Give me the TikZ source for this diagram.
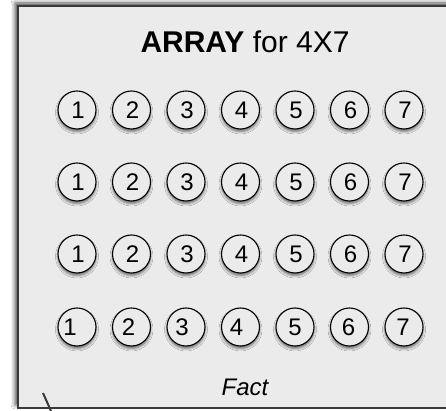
\documentclass[tikz,border=0pt]{standalone}
\usepackage{fontspec}
\setmainfont{Liberation Sans}
\usetikzlibrary{shadows.blur}
\definecolor{panel}{HTML}{EBEBEB}
\definecolor{rim}{HTML}{3A3A3A}

\begin{document}
\begin{tikzpicture}[x=1pt,y=1pt,
  cell/.style={circle,draw=black,line width=1.1pt,fill=panel,minimum size=38pt,inner sep=0pt,
    blur shadow={shadow xshift=0pt,shadow yshift=-2.5pt,shadow blur radius=2.5pt,shadow opacity=55}},
  digit/.style={font=\fontsize{24}{27}\selectfont,inner sep=0pt}]
  \path[use as bounding box] (0,0) rectangle (446,411);
  \fill[white] (0,0) rectangle (446,411);
  % panel runs off the right edge; shadow falls up and to the left
  \path[fill=panel,draw=rim,line width=1.2pt,
    blur shadow={shadow xshift=-3pt,shadow yshift=3pt,shadow blur radius=4pt,shadow opacity=70}]
    (18,3) rectangle (480,405);

  \node[font=\fontsize{30}{34}\selectfont] (title) at (245,369) {\textbf{ARRAY} for 4X7};

  % four rows of seven; bottom row digits sit a little off centre
  \foreach \r/\yy in {1/301,2/229,3/157,4/84}{
    \foreach \c in {1,...,7}{
      \pgfmathsetmacro{\xx}{77+(\c-1)*54.5}
      \node[cell] (c\r\c) at (\xx,\yy) {};
    }
  }
  \foreach \r in {1,2,3}{
    \foreach \c in {1,...,7}{
      \node[digit] (n\r\c) at ([xshift=1pt]c\r\c) {\c};
    }
  }
  \foreach \c/\dx in {1/-7,2/-3,3/-4,4/-4,5/0,6/-1,7/-1}{
    \node[digit] (n4\c) at ([xshift=\dx pt]c4\c) {\c};
  }

  \node[font=\fontsize{24}{27}\selectfont\itshape] (fact) at (245,24) {Fact};

  \coordinate (tailtop) at (43,18);
  \coordinate (tailend) at (51,0);
  \draw[rim,line width=2pt] (tailtop) -- (tailend);
\end{tikzpicture}
\end{document}
